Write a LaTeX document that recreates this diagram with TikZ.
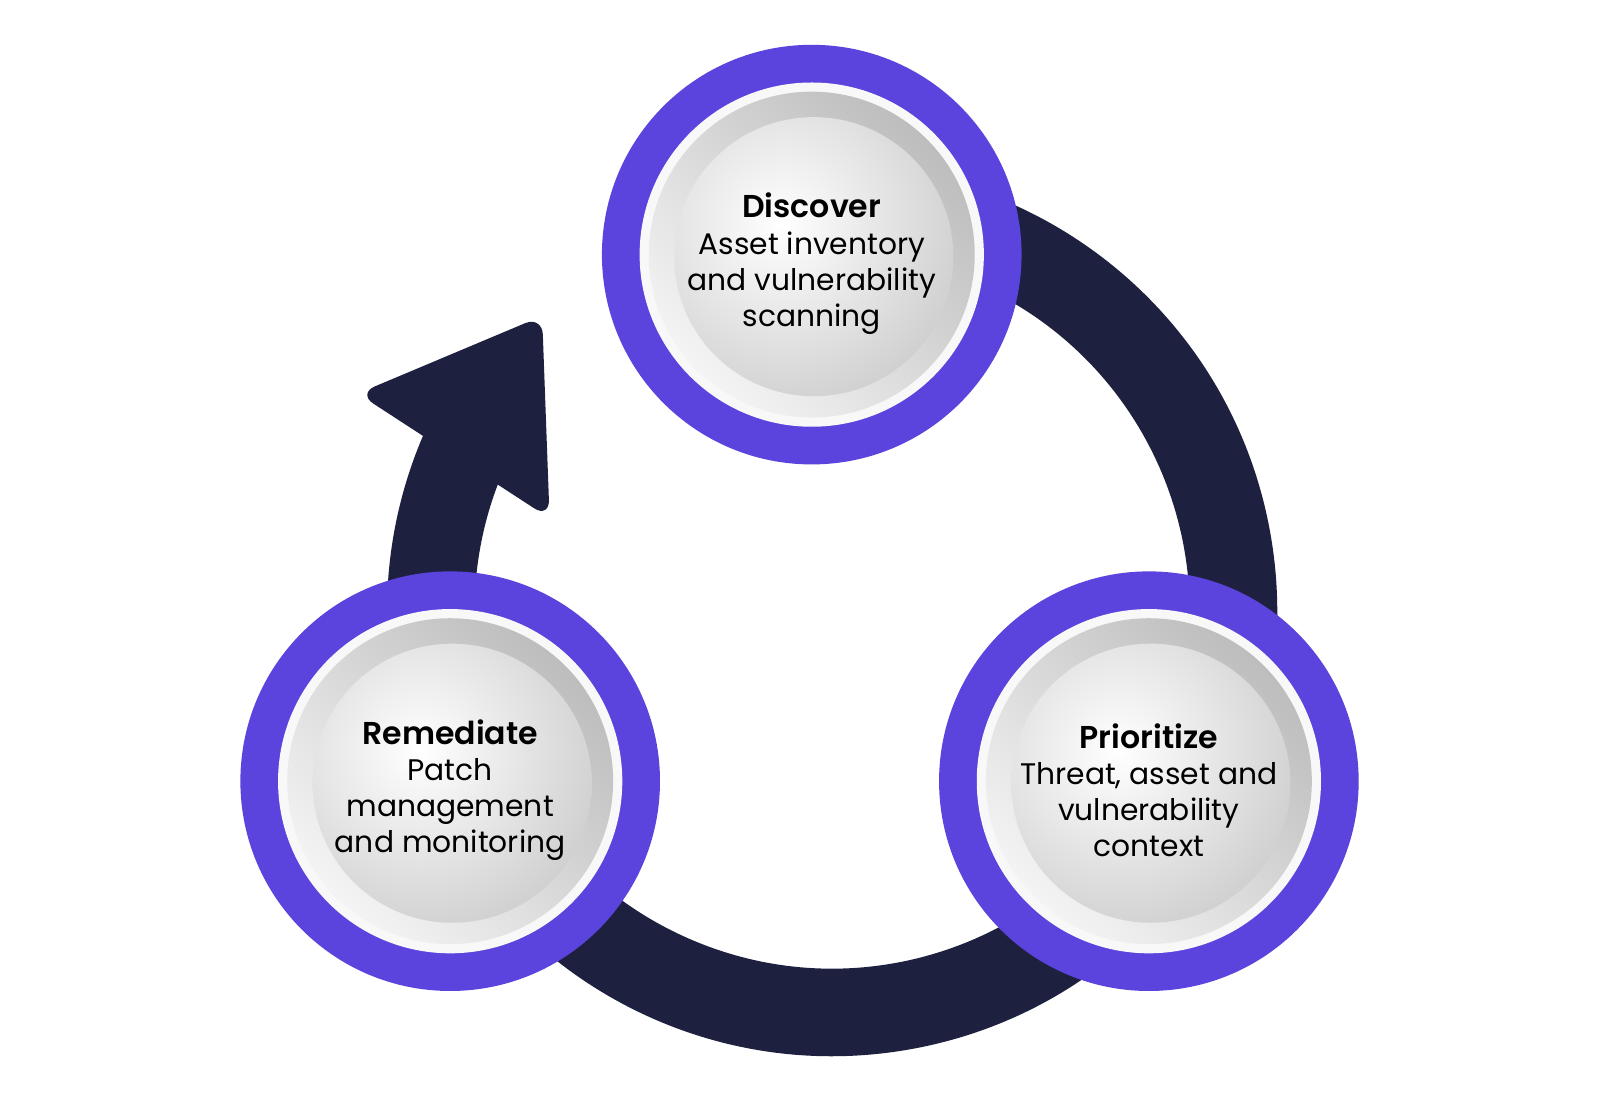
\documentclass[tikz,border=0pt]{standalone}
\usepackage{fontspec}
\setmainfont{Poppins}[BoldFont={Poppins SemiBold}]
\usetikzlibrary{calc}
\definecolor{ringnavy}{HTML}{1E2040}
\definecolor{stepviolet}{HTML}{5B43DD}
\definecolor{rimdark}{HTML}{BDBDBD}
\definecolor{rimlight}{HTML}{F4F4F4}
\definecolor{ringwhite}{HTML}{F8F8F8}
\definecolor{coreedge}{HTML}{CECECE}
\newcommand{\makestep}[3]{%
  \node[stepdisc] (#1) at (#2) {};
  \fill[ringwhite] (#1.center) circle (169);
  \shade[top color=rimdark, bottom color=rimlight, shading angle=-45] (#1.center) circle (160);
  \begin{scope}
    \clip ($(#1.center)+(2,-2)$) circle (137);
    \shade[inner color=white, outer color=coreedge] ($(#1.center)+(-30,30)$) circle (190);
  \end{scope}
  \node[steptext] (#1text) at ($(#1.center)+(0,-9)$) {#3};
}
\newcommand{\steptitle}[1]{{\fontsize{31}{35.5}\selectfont\bfseries #1}}
\begin{document}
\begin{tikzpicture}[x=1pt,y=1pt,
  stepdisc/.style={circle, fill=stepviolet, minimum size=412pt, inner sep=0pt},
  steptext/.style={align=center, font=\fontsize{29.2}{35.5}\selectfont, text=black, inner sep=0pt},
  cycleband/.style={fill=ringnavy},
]
\useasboundingbox (0,0) rectangle (1568,1082);
\fill[white] (0,0) rectangle (1568,1082);
\coordinate (C) at (817,482);
\coordinate (D) at (797,832);
\coordinate (P) at (1128,315);
\coordinate (R) at (442,315);
\coordinate (bL) at (351.4,695.6);
\coordinate (T) at (532.3,771.7);
\coordinate (bR) at (539.6,573.1);

% cycle band (runs a little into the arrowhead so no seam shows)
\fill[cycleband] ($(C)+(100:437)$) arc[start angle=100, end angle=-205.5, radius=437]
  coordinate (eL) -- ($(C)+(-203:351)$) coordinate (eR)
  arc[start angle=-203, end angle=100, radius=351] -- cycle;
% arrowhead
\fill[cycleband, rounded corners=18pt] (bL) -- (T) -- (bR) -- cycle;

\makestep{discover}{D}{\steptitle{Discover}\\Asset inventory\\and vulnerability\\scanning}
\makestep{prioritize}{P}{\steptitle{Prioritize}\\Threat, asset and\\vulnerability\\context}
\makestep{remediate}{R}{\steptitle{Remediate}\\Patch\\management\\and monitoring}
\end{tikzpicture}
\end{document}
